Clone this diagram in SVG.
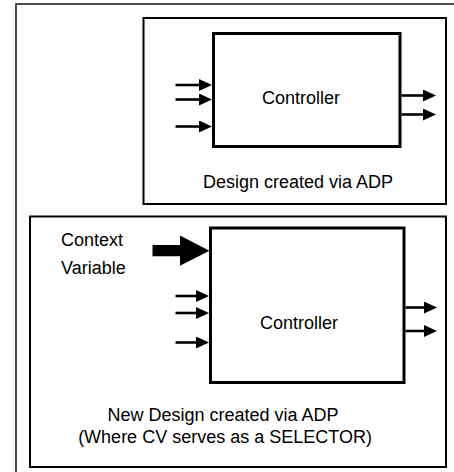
<svg xmlns="http://www.w3.org/2000/svg" width="454" height="472" viewBox="0 0 454 472">
<defs>
<style>
.frame{fill:none;stroke:#222;stroke-width:1.6}
.box{fill:none;stroke:#000;stroke-width:2}
.ctrl{fill:#fff;stroke:#000;stroke-width:3}
.arr{stroke:#000;stroke-width:2.6;fill:none;marker-end:url(#ah)}
text{font-family:"Liberation Sans",Arial,sans-serif;font-size:18px;fill:#000}
</style>
<marker id="ah" markerUnits="userSpaceOnUse" markerWidth="14" markerHeight="13" refX="7" refY="6" orient="auto">
<path d="M0,0 L13,6 L0,12 Z" fill="#000"/>
</marker>
</defs>
<rect width="454" height="472" fill="#fff"/>
<rect class="frame" x="16" y="4" width="460" height="490"/>
<g id="design1">
<rect class="box" x="143.5" y="18" width="302.5" height="186"/>
<text x="298" y="188" text-anchor="middle">Design created via ADP</text>
</g>
<g id="controller1">
<rect class="ctrl" x="213.5" y="33.5" width="186.5" height="113"/>
<text x="301" y="104" text-anchor="middle">Controller</text>
</g>
<g id="design2">
<rect class="box" x="30" y="216.5" width="416" height="250.5"/>
<text x="223" y="421" text-anchor="middle">New Design created via ADP</text>
<text x="225" y="443" text-anchor="middle">(Where CV serves as a SELECTOR)</text>
<text x="61" y="246">Context</text>
<text x="61" y="274">Variable</text>
</g>
<g id="controller2">
<rect class="ctrl" x="210.5" y="228" width="193.5" height="154.5"/>
<text x="299" y="329" text-anchor="middle">Controller</text>
</g>
<g id="connectors">
<line class="arr" x1="175.5" y1="85" x2="206" y2="85"/>
<line class="arr" x1="175.5" y1="99.5" x2="206" y2="99.5"/>
<line class="arr" x1="175.5" y1="126.5" x2="206" y2="126.5"/>
<line class="arr" x1="401.5" y1="95.5" x2="430" y2="95.5"/>
<line class="arr" x1="401.5" y1="114.5" x2="430" y2="114.5"/>
<line class="arr" x1="175.5" y1="296" x2="203" y2="296"/>
<line class="arr" x1="175.5" y1="313" x2="203" y2="313"/>
<line class="arr" x1="175.5" y1="342.5" x2="203" y2="342.5"/>
<line class="arr" x1="405.5" y1="307.5" x2="431" y2="307.5"/>
<line class="arr" x1="405.5" y1="331" x2="431" y2="331"/>
<polygon points="152.5,245 180,245 180,235.5 209.5,250.7 180,265.8 180,256.3 152.5,256.3" fill="#000"/>
</g>
</svg>
